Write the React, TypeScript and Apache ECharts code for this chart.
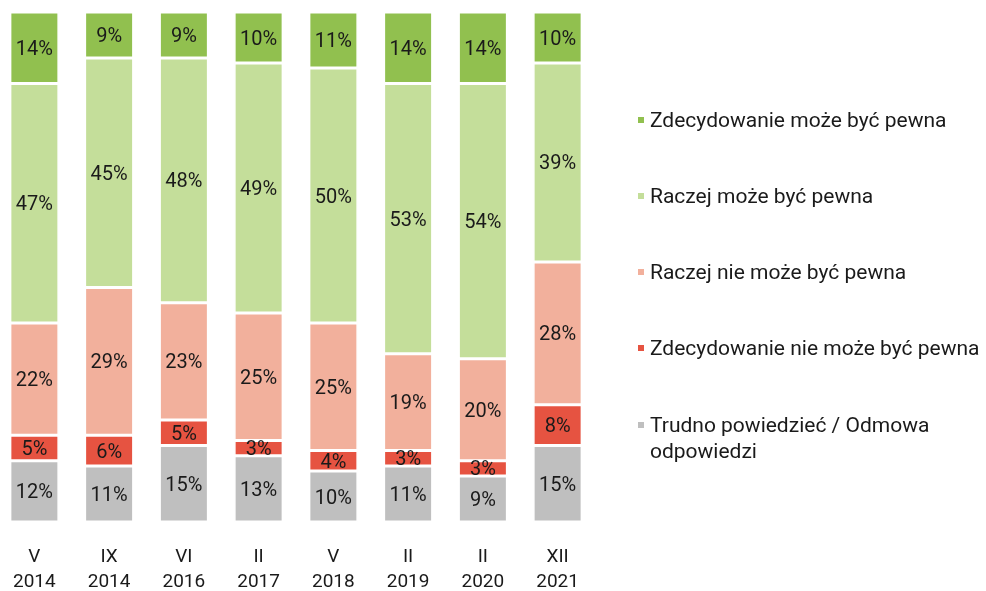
import React, { useEffect, useRef } from "react";
import * as echarts from "echarts";

const categories = ["V\n2014", "IX\n2014", "VI\n2016", "II\n2017", "V\n2018", "II\n2019", "II\n2020", "XII\n2021"];
const seriesNames = [
  "Trudno powiedzieć / Odmowa odpowiedzi",
  "Zdecydowanie nie może być pewna",
  "Raczej nie może być pewna",
  "Raczej może być pewna",
  "Zdecydowanie może być pewna",
];
const trudno = [12, 11, 15, 13, 10, 11, 9, 15];
const zdecNie = [5, 6, 5, 3, 4, 3, 3, 8];
const raczejNie = [22, 29, 23, 25, 25, 19, 20, 28];
const raczejMoze = [47, 45, 48, 49, 50, 53, 54, 39];
const zdecMoze = [14, 9, 9, 10, 11, 14, 14, 10];
const colors = ["#bfbfbf", "#e65341", "#f2b09c", "#c4de9a", "#91c04f"];
const seriesData = [trudno, zdecNie, raczejNie, raczejMoze, zdecMoze];

export default function App() {
  const ref = useRef<HTMLDivElement>(null);
  useEffect(() => {
    if (!ref.current) return;
    const chart = echarts.init(ref.current, null, { renderer: "svg" });
    const font = "Roboto, sans-serif";
    const legendText = { color: "#1a1a1a", fontSize: 21, lineHeight: 26, fontFamily: font };
    chart.setOption({
      animation: false,
      textStyle: { fontFamily: font },
      grid: { left: -3, width: 598, top: 12, bottom: 69, containLabel: false, outerBoundsMode: "none" },
      xAxis: {
        type: "category",
        data: categories,
        axisLine: { show: false },
        axisTick: { show: false },
        axisLabel: { color: "#1a1a1a", fontSize: 19, lineHeight: 25, margin: 21, fontFamily: font },
      },
      yAxis: { type: "value", min: 0, max: 100, show: false },
      legend: [
        {
          orient: "vertical",
          left: 636,
          top: 107,
          padding: 0,
          itemWidth: 8,
          itemHeight: 8,
          itemGap: 50,
          icon: "rect",
          textStyle: legendText,
          data: [seriesNames[4], seriesNames[3], seriesNames[2], seriesNames[1]],
        },
        {
          orient: "vertical",
          left: 636,
          top: 386,
          padding: 0,
          itemWidth: 8,
          itemHeight: 8,
          icon: "rect",
          formatter: () => " \nTrudno powiedzieć / Odmowa\nodpowiedzi",
          textStyle: legendText,
          data: [seriesNames[0]],
        },
      ],
      series: seriesNames.map((name, i) => ({
        name,
        type: "bar",
        stack: "total",
        barWidth: 49,
        data: seriesData[i],
        itemStyle: { color: colors[i], borderColor: "#ffffff", borderWidth: 1.5 },
        label: {
          show: true,
          position: "inside",
          formatter: "{c}%",
          color: "#1a1a1a",
          fontSize: 20,
          fontFamily: font,
        },
      })),
    });
    return () => chart.dispose();
  }, []);
  return <div ref={ref} style={{ position: "fixed", left: 0, top: 0, width: 986, height: 591 }} />;
}
